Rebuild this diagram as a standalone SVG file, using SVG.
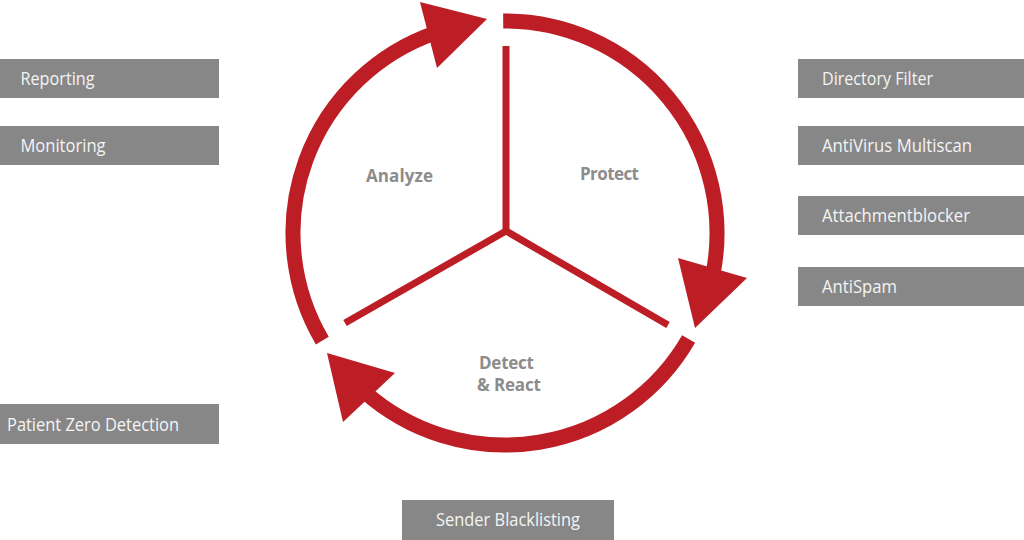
<svg xmlns="http://www.w3.org/2000/svg" width="1024" height="540" viewBox="0 0 1024 540">
<style>
.box{fill:#878787}
.bt{font-family:"Open Sans","Noto Sans","Liberation Sans",sans-serif;font-size:18px;fill:#f4f4f4}
.ct{font-family:"Open Sans","Noto Sans","Liberation Sans",sans-serif;font-size:17px;font-weight:bold;fill:#8c8c8c;text-anchor:middle}
.arc{fill:none;stroke:#bd1d24;stroke-width:15}
.head{fill:#bd1d24}
.spoke{fill:none;stroke:#bd1d24;stroke-width:7;stroke-linejoin:miter}
</style>
<rect width="1024" height="540" fill="#ffffff"/>
<g id="cycle">
<path class="arc" d="M503.2,21 A212,212 0 0 1 713.1,273.5"/>
<polygon class="head" points="678,258 747,278 695,328"/>
<path class="arc" d="M688.6,339 A212,212 0 0 1 364.5,391.8"/>
<polygon class="head" points="395,373 343,422 327,353"/>
<path class="arc" d="M322.3,340.6 A212,212 0 0 1 434.2,33.2"/>
<polygon class="head" points="420,2 437,68 487,19"/>
</g>
<g id="spokes">
<path class="spoke" d="M506,46 L506,234"/>
<path class="spoke" d="M345,323 L506,231 L668,325"/>
</g>
<g id="label-analyze"><text class="ct" x="399.5" y="182" textLength="67">Analyze</text></g>
<g id="label-protect"><text class="ct" x="609.5" y="180" textLength="59">Protect</text></g>
<g id="label-detect"><text class="ct" x="506.5" y="369" textLength="55">Detect</text><text class="ct" x="509" y="391" textLength="64">&amp; React</text></g>
<g id="reporting"><rect class="box" x="0" y="59" width="219" height="39"/><text class="bt" x="20.5" y="85" textLength="74" lengthAdjust="spacingAndGlyphs">Reporting</text></g>
<g id="monitoring"><rect class="box" x="0" y="126" width="219" height="39"/><text class="bt" x="20.5" y="152" textLength="85" lengthAdjust="spacingAndGlyphs">Monitoring</text></g>
<g id="patient-zero"><rect class="box" x="0" y="404" width="219" height="40"/><text class="bt" x="7" y="431" textLength="172" lengthAdjust="spacingAndGlyphs">Patient Zero Detection</text></g>
<g id="directory-filter"><rect class="box" x="798" y="59" width="226" height="39"/><text class="bt" x="822" y="85" textLength="111" lengthAdjust="spacingAndGlyphs">Directory Filter</text></g>
<g id="antivirus"><rect class="box" x="798" y="126" width="226" height="39"/><text class="bt" x="822" y="152" textLength="150" lengthAdjust="spacingAndGlyphs">AntiVirus Multiscan</text></g>
<g id="attachmentblocker"><rect class="box" x="798" y="196" width="226" height="39"/><text class="bt" x="822" y="222" textLength="148" lengthAdjust="spacingAndGlyphs">Attachmentblocker</text></g>
<g id="antispam"><rect class="box" x="798" y="267" width="226" height="39"/><text class="bt" x="822" y="293" textLength="75" lengthAdjust="spacingAndGlyphs">AntiSpam</text></g>
<g id="sender-blacklisting"><rect class="box" x="402" y="500" width="212" height="40"/><text class="bt" x="436" y="526" textLength="144" lengthAdjust="spacingAndGlyphs">Sender Blacklisting</text></g>
</svg>
